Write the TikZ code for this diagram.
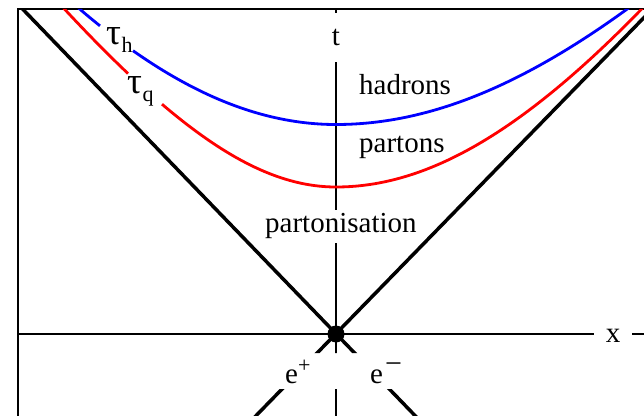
\documentclass[tikz,border=0pt]{standalone}
\usepackage{fontspec}
\setmainfont{Liberation Serif}
\usetikzlibrary{positioning, calc}

\begin{document}
\begin{tikzpicture}[x=10pt, y=10pt,
    axis/.style={line width=1.2pt},
    cone/.style={line width=3.5pt},
    curve/.style={line width=2.8pt},
    lbl/.style={font=\fontsize{29}{34}\selectfont, inner sep=0pt},
    declare function={
        hadr(\t) = 20.95 + (\t < 0 ? 108*(sqrt(1 + (\t/54)^2) - 1) : 56.3*(sqrt(1 + (\t/43.3)^2) - 1));
        part(\t) = 14.7 + (\t < 0 ? 31.6*(sqrt(1 + (\t/22.6)^2) - 1) : 58.2*(sqrt(1 + (\t/36.4)^2) - 1));
    }]
    \clip (-33.6, -8.1) rectangle (30.8, 33.4);

    % Frame
    \draw[axis] (-31.8, -20) rectangle (40, 32.5);

    % Points on the axes
    \coordinate (ev) at (0, 0);
    \coordinate (ttop) at (0, 32.5);
    \coordinate (tbot) at (0, -20);
    \coordinate (xleft) at (-31.8, 0);
    \coordinate (xright) at (40, 0);

    % Labels
    \node[lbl, minimum height=49pt] (tlab) at (0, 29.65) {t};
    \node[lbl, inner xsep=12pt] (xlab) at (27.7, -0.2) {x};
    \node[lbl, anchor=base west] (hlab) at (2.3, 23.9) {hadrons};
    \node[lbl, anchor=base west] (qlab) at (2.3, 18.1) {partons};
    \node[lbl, anchor=base west, inner ysep=4pt] (plab) at (-7.1, 10.1) {partonisation};
    \node[lbl, anchor=base west] (tauh) at (-23.0, 28.9)
        {\fontsize{37}{37}\selectfont τ\kern0.5pt\raisebox{-8pt}{\fontsize{22}{22}\selectfont h}};
    \node[lbl, anchor=base west] (tauq) at (-20.9, 24.0)
        {\fontsize{37}{37}\selectfont τ\kern0.5pt\raisebox{-8pt}{\fontsize{22}{22}\selectfont q}};
    \node[lbl, anchor=base west] (epos) at (-5.1, -4.9)
        {e\raisebox{11pt}{\fontsize{22}{22}\selectfont +}};
    \node[lbl, anchor=base west] (eneg) at (3.4, -4.9)
        {e\kern2pt\raisebox{10pt}{\fontsize{30}{30}\selectfont −}};

    \begin{scope}
        \clip (-31.8, -1.9) rectangle (40, 32.5) (-31.8, -20) rectangle (40, -5.5);

        % Axes
        \draw[axis] (xleft) -- (xlab.west |- ev);
        \draw[axis] (xlab.east |- ev) -- (xright);
        \draw[axis] (ttop) -- (tlab.north);
        \draw[axis] (tlab.south) -- (ev |- plab.north);
        \draw[axis] (ev |- plab.south) -- (ev) -- (tbot);

        % Light cone
        \draw[cone] (-32.5, 33.7) -- (9, -9.3);
        \draw[cone] (-9, -9.2) -- (33, 33.9);

        % Hadron hyperbola
        \draw[curve, blue] plot[domain=-26.8:-23.6, samples=10] (\x, {hadr(\x)});
        \draw[curve, blue] plot[domain=-20.3:30, samples=100] (\x, {hadr(\x)});

        % Parton hyperbola
        \draw[curve, red] plot[domain=-28.3:-20.8, samples=20] (\x, {part(\x)});
        \draw[curve, red] plot[domain=-17.4:31.5, samples=100] (\x, {part(\x)});
    \end{scope}

    % Vertex
    \fill (ev) circle (8.5pt);

\end{tikzpicture}
\end{document}
